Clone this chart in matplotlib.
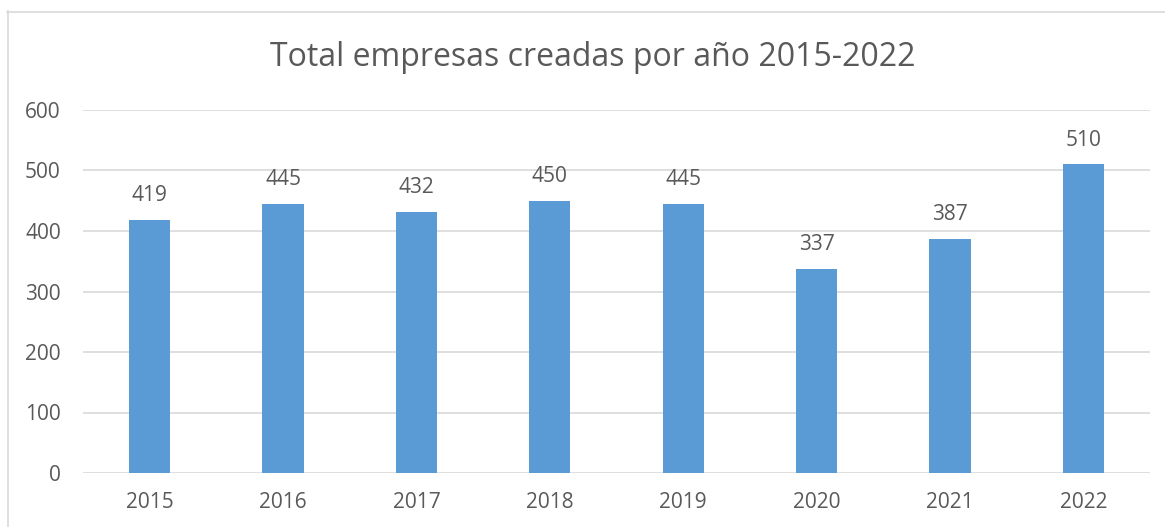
import matplotlib.pyplot as plt
from matplotlib.lines import Line2D

years = ["2015", "2016", "2017", "2018", "2019", "2020", "2021", "2022"]
empresas = [419, 445, 432, 450, 445, 337, 387, 510]

plt.rcParams['font.family'] = ['Open Sans', 'DejaVu Sans']
txt = '#595959'
blue = '#5B9BD5'

fig = plt.figure(figsize=(11.65, 5.27), dpi=100)
ax = fig.add_axes([83/1165, 1 - 473/527, (1150 - 83)/1165, (473 - 110)/527])

x = range(len(years))
ax.bar(x, empresas, width=0.31, color=blue, zorder=3)
for i, v in zip(x, empresas):
    ax.annotate(str(v), (i, v), xytext=(0, 17.5), textcoords='offset points',
                ha='center', va='center', fontsize=15, color=txt)

ax.set_xlim(-0.5, len(years) - 0.5)
ax.set_ylim(0, 600)
ax.set_yticks(range(0, 601, 100))
ax.set_xticks(list(x))
ax.set_xticklabels(years)
ax.grid(axis='y', color='#D9D9D9', linewidth=1.2, zorder=0)
for s in ax.spines.values():
    s.set_visible(False)
ax.tick_params(length=0, labelsize=15, labelcolor=txt)
ax.tick_params(axis='x', pad=14)
ax.tick_params(axis='y', pad=16)

fig.text(593/1165, 1 - 57/527, "Total empresas creadas por año 2015-2022",
         ha='center', va='center', fontsize=23, color=txt)

# outer chart frame
fig.add_artist(Line2D([7.5/1165, 7.5/1165], [0, 1 - 11/527], transform=fig.transFigure,
                      color='#D9D9D9', linewidth=1.2))
fig.add_artist(Line2D([7/1165, 1], [1 - 11.5/527, 1 - 11.5/527], transform=fig.transFigure,
                      color='#D9D9D9', linewidth=1.2))

fig.savefig("out.png", dpi=100)
